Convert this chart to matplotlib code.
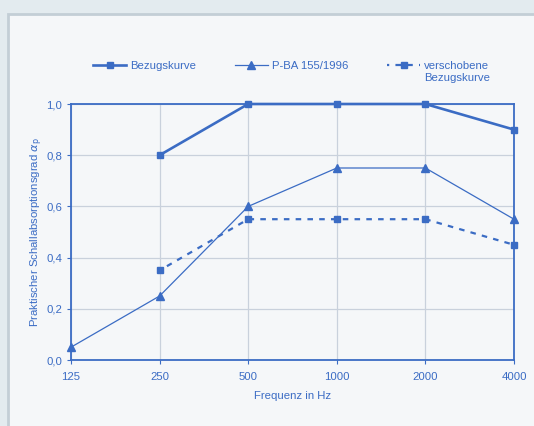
import matplotlib
matplotlib.use("Agg")
import matplotlib.pyplot as plt
from matplotlib.patches import Rectangle

freq = [125, 250, 500, 1000, 2000, 4000]
freq_labels = ["125", "250", "500", "1000", "2000", "4000"]
bezug_f = [250, 500, 1000, 2000, 4000]
bezug = [0.8, 1.0, 1.0, 1.0, 0.9]
pba_f = [125, 250, 500, 1000, 2000, 4000]
pba = [0.05, 0.25, 0.6, 0.75, 0.75, 0.55]
versch_f = [250, 500, 1000, 2000, 4000]
versch = [0.35, 0.55, 0.55, 0.55, 0.45]
yticks = [0.0, 0.2, 0.4, 0.6, 0.8, 1.0]
ytick_labels = ["0,0", "0,2", "0,4", "0,6", "0,8", "1,0"]

blue = "#3b6cc4"
gridc = "#c9d1dc"
fs = 8.2
plt.rcParams['font.family'] = ['Liberation Sans', 'DejaVu Sans']

fig = plt.figure(figsize=(5.34, 4.26), dpi=100)
fig.patch.set_facecolor("#e3ebef")
fig.patches.append(Rectangle((8/534, -0.02), 1.0, 1 - 14/426 + 0.02, transform=fig.transFigure,
                             facecolor="#f5f7f9", edgecolor="#c3ced6", linewidth=2, zorder=-5))

ax = fig.add_axes([71/534, 1 - 360/426, (514-71)/534, (360-104)/426])
ax.set_facecolor("none")
ax.set_xscale("log", base=2)
ax.set_xlim(125, 4000)
ax.set_ylim(0, 1.0)
ax.set_xticks(freq)
ax.set_xticklabels(freq_labels)
ax.minorticks_off()
ax.set_yticks(yticks)
ax.set_yticklabels(ytick_labels)
ax.grid(True, color=gridc, linewidth=0.9)
ax.set_axisbelow(True)
for s in ax.spines.values():
    s.set_color(blue)
    s.set_linewidth(1.3)
ax.tick_params(colors=blue, labelsize=fs, length=3, width=0.8)
ax.tick_params(axis='x', pad=6)

l1, = ax.plot(bezug_f, bezug, color=blue, linewidth=1.9, marker="s", markersize=5,
              label="Bezugskurve", clip_on=False, zorder=4)
l2, = ax.plot(pba_f, pba, color=blue, linewidth=0.9, marker="^", markersize=5.5,
              label="P-BA 155/1996", clip_on=False, zorder=4)
l3, = ax.plot(versch_f, versch, color=blue, linewidth=1.6, linestyle=(1.5, (2.5, 2.8)), marker="s",
              markersize=5, label="verschobene\nBezugskurve", clip_on=False, zorder=4)

ax.set_xlabel("Frequenz in Hz", color=blue, fontsize=fs, labelpad=6)
ax.set_ylabel(r"Praktischer Schallabsorptionsgrad $\alpha_\mathrm{p}$", color=blue, fontsize=fs, labelpad=0.5)

leg = ax.legend(handles=[l1, l2, l3], ncol=3, frameon=False, loc="upper left",
                bbox_to_anchor=(0.05, 1.167), fontsize=fs, handlelength=2.9, columnspacing=3.4,
                handletextpad=0.35, labelcolor=blue, borderaxespad=0, borderpad=0)
leg._legend_handle_box.align = "top"
for col in leg._legend_handle_box.get_children():
    for item in col.get_children():
        item.align = "top"

fig.savefig("out.png", dpi=100, facecolor=fig.get_facecolor())
